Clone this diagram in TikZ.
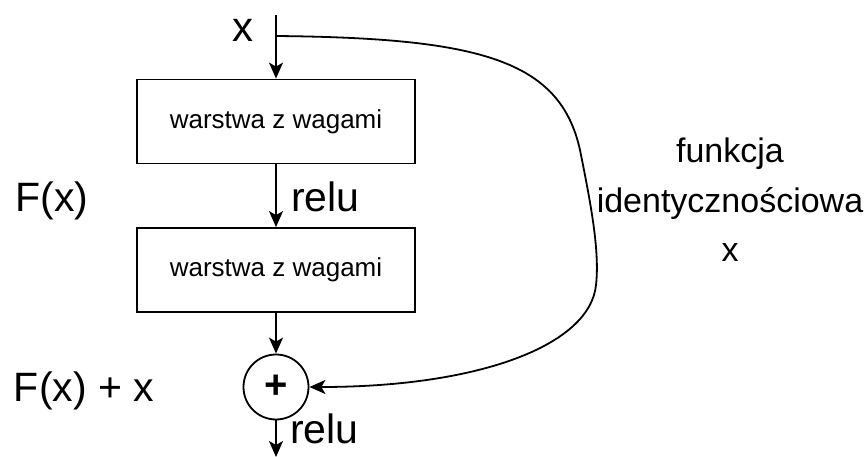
\documentclass[tikz,border=0pt]{standalone}
\usepackage{fontspec}
\setmainfont{Liberation Sans}
\usetikzlibrary{arrows.meta}
\begin{document}
\begin{tikzpicture}[x=1pt,y=-1pt,
  conn/.style={line width=1.8pt,-{Stealth[length=16pt,width=14pt,inset=4pt]}},
  layerbox/.style={draw,line width=1.8pt,minimum width=278pt,minimum height=84pt,inner sep=0pt,font=\fontsize{26}{30}\selectfont},
  sumnode/.style={draw,circle,line width=1.8pt,minimum size=65pt,inner sep=0pt,font=\fontsize{40}{44}\selectfont\bfseries},
  lbl/.style={inner sep=0pt,font=\fontsize{41}{46}\selectfont}]
\useasboundingbox (0,0) rectangle (868,457);
\node[layerbox] (box1) at (276,121.5) {warstwa z wagami};
\node[layerbox] (box2) at (276,270) {warstwa z wagami};
\node[sumnode] (plus) at (276,387) {+};
\coordinate (xtop) at (276,15);
\coordinate (split) at (276,36);
\coordinate (out) at (276,457);
\node[lbl,font=\fontsize{42}{46}\selectfont,anchor=base] (xin) at (243,42) {x};
\node[lbl,anchor=base] (fx) at (52,212) {F(x)};
\node[lbl,anchor=base] (fxx) at (84,401) {F(x) + x};
\node[lbl,anchor=base west] (relu1) at (291,212) {relu};
\node[lbl,anchor=base west] (relu2) at (290,443) {relu};
\node[inner sep=0pt,align=center,font=\fontsize{34}{50}\selectfont,anchor=base] (ident) at (730,262) {funkcja\\identycznościowa\\x};
\draw[conn] (xtop) -- (box1.north);
\draw[conn] (box1.south) -- (box2.north);
\draw[conn] (box2.south) -- (plus.north);
\draw[conn] (plus.south) -- (out);
\draw[conn] (split) .. controls (480,38) and (560,60) .. (580,150)
  .. controls (590,200) and (600,250) .. (596,285)
  .. controls (590,345) and (480,387) .. (plus.east);
\end{tikzpicture}
\end{document}
